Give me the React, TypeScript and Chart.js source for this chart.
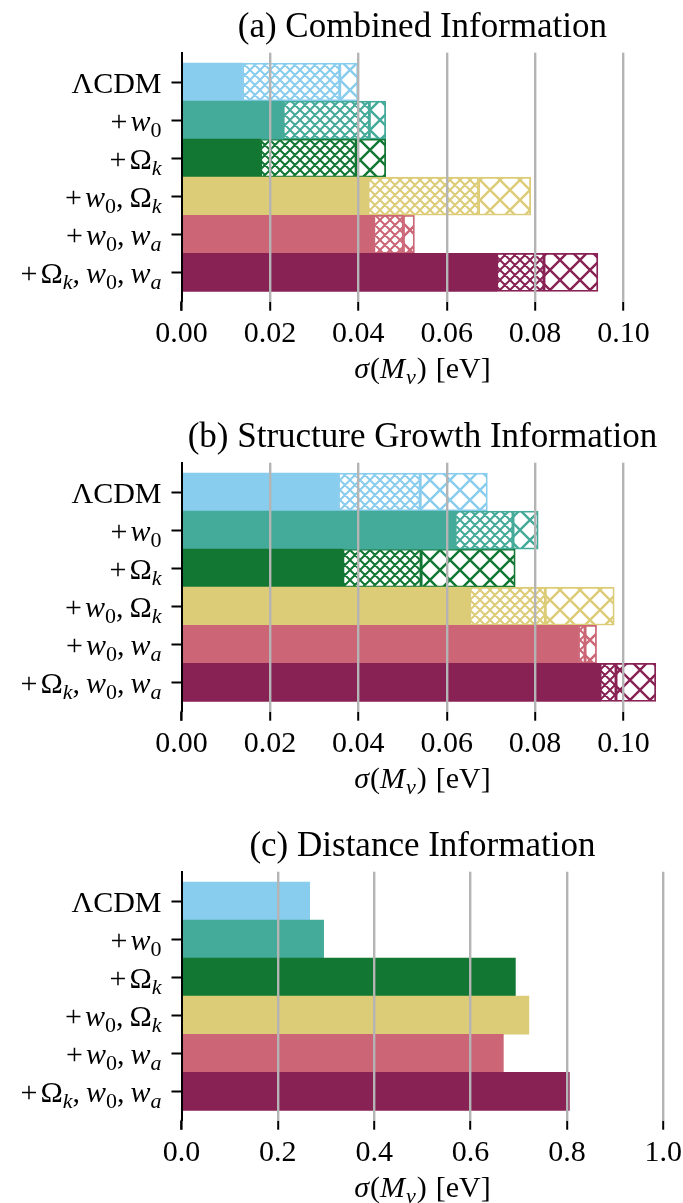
import React, { useEffect, useRef } from 'react';
import { Chart, registerables } from 'chart.js';

Chart.register(...registerables);

// ---------- data ----------
const MODELS = ['ΛCDM', '+w₀', '+Ωₖ', '+w₀, Ωₖ', '+w₀, wₐ', '+Ωₖ, w₀, wₐ'];
const COLORS = ['#88CCEE', '#44AA99', '#117733', '#DDCC77', '#CC6677', '#882255'];

// (a) Combined Information: end of solid / fine-hatch / coarse-hatch segments
const COMB_SOLID = [0.0138, 0.023, 0.0179, 0.0422, 0.0435, 0.0713];
const COMB_FINE = [0.0358, 0.0425, 0.0395, 0.0672, 0.0502, 0.082];
const COMB_COARSE = [0.0399, 0.0462, 0.0462, 0.079, 0.0527, 0.0942];

// (b) Structure Growth Information
const GROW_SOLID = [0.0355, 0.0619, 0.0365, 0.0652, 0.0898, 0.0947];
const GROW_FINE = [0.054, 0.075, 0.0542, 0.0823, 0.0913, 0.0983];
const GROW_COARSE = [0.0692, 0.0807, 0.0755, 0.0979, 0.0939, 0.1073];

// (c) Distance Information
const DIST_SOLID = [0.266, 0.295, 0.693, 0.721, 0.668, 0.805];

const TICKS_AB = [0, 0.02, 0.04, 0.06, 0.08, 0.1];
const TICKS_C = [0, 0.2, 0.4, 0.6, 0.8, 1.0];

const TITLES = ['(a) Combined Information', '(b) Structure Growth Information', '(c) Distance Information'];
const XLABEL = 'σ(Mν) [eV]';

type Seg = { t: string; it?: boolean; sub?: boolean; gap?: number };
const LABEL_PARTS: Seg[][] = [
  [{ t: 'ΛCDM' }],
  [{ t: '+', gap: 3 }, { t: 'w', it: true }, { t: '0', sub: true }],
  [{ t: '+', gap: 3 }, { t: 'Ω' }, { t: 'k', it: true, sub: true }],
  [{ t: '+', gap: 3 }, { t: 'w', it: true }, { t: '0', sub: true }, { t: ',', gap: 6 }, { t: 'Ω' }, { t: 'k', it: true, sub: true }],
  [{ t: '+', gap: 3 }, { t: 'w', it: true }, { t: '0', sub: true }, { t: ',', gap: 6 }, { t: 'w', it: true }, { t: 'a', it: true, sub: true }],
  [{ t: '+', gap: 3 }, { t: 'Ω' }, { t: 'k', it: true, sub: true }, { t: ',', gap: 6 }, { t: 'w', it: true }, { t: '0', sub: true }, { t: ',', gap: 6 }, { t: 'w', it: true }, { t: 'a', it: true, sub: true }],
];
const XLABEL_PARTS: Seg[] = [
  { t: 'σ', it: true, gap: 1 }, { t: '(' }, { t: 'M', it: true, gap: 1 }, { t: 'ν', it: true, sub: true, gap: 1 }, { t: ')', gap: 9 }, { t: '[eV]' },
];

// ---------- styling ----------
const SERIF = '"Liberation Serif", "DejaVu Serif", serif';
const FS = 30;
const SUBFS = 22;
const CW = 683;
const CH = 410;
const AREA_BOTTOM = 301.7;
const AREA_LEFT = 181.5;
const AREA_RIGHT = 663.3;

function fontFor(s: Seg) {
  return `${s.it ? 'italic ' : ''}${s.sub ? SUBFS : FS}px ${SERIF}`;
}

function drawRich(ctx: CanvasRenderingContext2D, parts: Seg[], x: number, baseline: number, align: 'right' | 'center') {
  let total = 0;
  const widths = parts.map((p) => {
    ctx.font = fontFor(p);
    const w = ctx.measureText(p.t).width + (p.gap || 0);
    total += w;
    return w;
  });
  let cx = align === 'right' ? x - total : x - total / 2;
  ctx.textAlign = 'left';
  ctx.textBaseline = 'alphabetic';
  parts.forEach((p, i) => {
    ctx.font = fontFor(p);
    ctx.fillText(p.t, cx, baseline + (p.sub ? 6 : 0));
    cx += widths[i];
  });
}

function makeHatch(color: string, period: number, lw: number): CanvasPattern {
  const c = document.createElement('canvas');
  c.width = period;
  c.height = period;
  const g = c.getContext('2d')!;
  g.fillStyle = '#ffffff';
  g.fillRect(0, 0, period, period);
  g.strokeStyle = color;
  g.lineWidth = lw;
  g.beginPath();
  for (let k = -1; k <= 1; k++) {
    g.moveTo(k * period, 0);
    g.lineTo(k * period + period, period);
    g.moveTo(k * period, period);
    g.lineTo(k * period + period, 0);
  }
  g.stroke();
  return g.createPattern(c, 'repeat')!;
}

const richPlugin = {
  id: 'richText',
  afterDraw(chart: any) {
    const ctx: CanvasRenderingContext2D = chart.ctx;
    const ys = chart.scales.y;
    const area = chart.chartArea;
    ctx.save();
    ctx.fillStyle = '#000';
    LABEL_PARTS.forEach((parts, i) => {
      drawRich(ctx, parts, area.left - 20, ys.getPixelForValue(i) + 11, 'right');
    });
    drawRich(ctx, XLABEL_PARTS, (area.left + area.right) / 2, area.bottom + 76, 'center');
    ctx.strokeStyle = '#000';
    ctx.lineWidth = 2;
    ctx.beginPath();
    ctx.moveTo(area.left, area.bottom - 1);
    ctx.lineTo(area.left, area.bottom + 9);
    ctx.stroke();
    ctx.restore();
  },
};

function makeConfig(title: string, solid: number[], fine: number[] | null, coarse: number[] | null, xmax: number, xticks: number[], decimals: number): any {
  const datasets: any[] = [
    {
      label: 'solid',
      data: solid.map((v, i) => ({ y: i, x: [0, v] })),
      backgroundColor: COLORS,
      borderWidth: 0,
    },
  ];
  if (fine && coarse) {
    datasets.push({
      label: 'fine',
      data: fine.map((v, i) => ({ y: i, x: [solid[i], v] })),
      backgroundColor: COLORS.map((c) => makeHatch(c, 10, 2)),
      borderColor: COLORS,
      borderWidth: 1.8,
    });
    datasets.push({
      label: 'coarse',
      data: coarse.map((v, i) => ({ y: i, x: [fine[i], v] })),
      backgroundColor: COLORS.map((c) => makeHatch(c, 20, 2.4)),
      borderColor: COLORS,
      borderWidth: 1.8,
    });
  }
  datasets.forEach((d) => {
    d.grouped = false;
    d.barPercentage = 1;
    d.categoryPercentage = 1;
    d.borderSkipped = false;
  });
  return {
    type: 'bar',
    data: { datasets },
    plugins: [richPlugin],
    options: {
      responsive: false,
      animation: false,
      indexAxis: 'y',
      layout: { padding: { top: 0, left: 0, bottom: 0, right: CW - AREA_RIGHT } },
      plugins: {
        legend: { display: false },
        tooltip: { enabled: false },
        title: {
          display: true,
          text: title,
          fullSize: false,
          color: '#000',
          font: { family: SERIF, size: 35, weight: 'normal' },
          padding: { top: 7, bottom: 3.7 },
        },
      },
      scales: {
        x: {
          type: 'linear',
          min: 0,
          max: xmax,
          offset: false,
          afterBuildTicks: (s: any) => {
            s.ticks = xticks.map((v) => ({ value: v }));
          },
          afterFit: (s: any) => {
            s.height = CH - AREA_BOTTOM;
            s.paddingLeft = 0;
            s.paddingRight = 0;
          },
          grid: {
            z: 1,
            offset: false,
            color: (c: any) => (c.index === 0 ? 'rgba(0,0,0,0)' : '#b4b4b4'),
            lineWidth: 2.4,
            tickColor: '#000',
            tickLength: 9,
            tickWidth: 2,
          },
          border: { display: false },
          ticks: {
            callback: (v: any) => Number(v).toFixed(decimals),
            color: '#000',
            font: { family: SERIF, size: FS },
            padding: 5,
            maxRotation: 0,
            autoSkip: false,
          },
          title: {
            display: true,
            text: XLABEL,
            color: 'rgba(0,0,0,0)',
            font: { family: SERIF, size: FS },
          },
        },
        y: {
          type: 'linear',
          min: -0.77,
          max: 5.77,
          reverse: true,
          offset: false,
          afterBuildTicks: (s: any) => {
            s.ticks = MODELS.map((_, i) => ({ value: i }));
          },
          afterFit: (s: any) => {
            s.width = AREA_LEFT;
          },
          grid: {
            offset: false,
            drawOnChartArea: false,
            drawTicks: true,
            tickLength: 10,
            tickColor: '#000',
            tickWidth: 2,
          },
          border: { display: true, color: '#000', width: 2, z: 2 },
          ticks: {
            callback: (v: any) => MODELS[Math.round(Number(v))] ?? '',
            color: 'rgba(0,0,0,0)',
            font: { family: SERIF, size: FS },
            padding: 10,
            autoSkip: false,
          },
        },
      },
    },
  };
}

export default function App() {
  const ra = useRef<HTMLCanvasElement>(null);
  const rb = useRef<HTMLCanvasElement>(null);
  const rc = useRef<HTMLCanvasElement>(null);

  useEffect(() => {
    const charts = [
      new Chart(ra.current!, makeConfig(TITLES[0], COMB_SOLID, COMB_FINE, COMB_COARSE, 0.109, TICKS_AB, 2)),
      new Chart(rb.current!, makeConfig(TITLES[1], GROW_SOLID, GROW_FINE, GROW_COARSE, 0.109, TICKS_AB, 2)),
      new Chart(rc.current!, makeConfig(TITLES[2], DIST_SOLID, null, null, 1.0, TICKS_C, 1)),
    ];
    return () => charts.forEach((c) => c.destroy());
  }, []);

  const cs = (top: number): React.CSSProperties => ({ position: 'absolute', left: 0, top, width: CW, height: CH });
  return (
    <div style={{ position: 'absolute', left: 0, top: 0, width: CW, height: 1203, overflow: 'hidden', background: '#fff' }}>
      <canvas ref={ra} width={CW} height={CH} style={cs(0)} />
      <canvas ref={rb} width={CW} height={CH} style={cs(410)} />
      <canvas ref={rc} width={CW} height={CH} style={cs(819)} />
    </div>
  );
}
